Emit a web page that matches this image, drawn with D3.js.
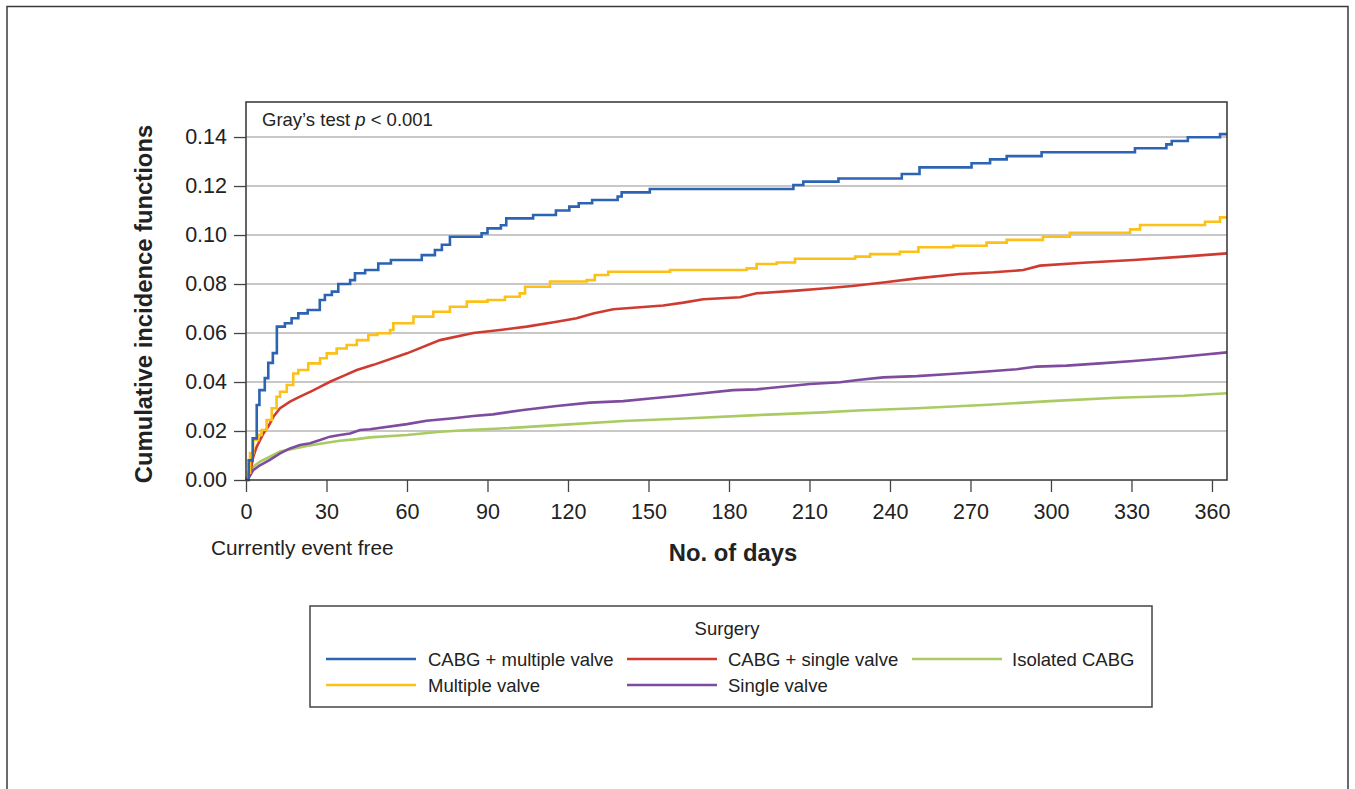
<!DOCTYPE html>
<html>
<head>
<meta charset="utf-8">
<script src="https://cdn.jsdelivr.net/npm/d3@7/dist/d3.min.js"></script>
<style>
  html, body { margin: 0; padding: 0; background: #fff; }
  svg { display: block; font-family: "Liberation Sans", Arial, Helvetica, sans-serif; }
</style>
</head>
<body>
<svg id="chart" width="1355" height="789"></svg>
<script>
// ---------- DATA ----------
const seriesNames = ["CABG + multiple valve", "CABG + single valve", "Isolated CABG", "Multiple valve", "Single valve"];
const seriesColors = ["#2d63b3", "#cf3b31", "#a9cb62", "#fcc016", "#7e4b9f"];
const xTicks = [0, 30, 60, 90, 120, 150, 180, 210, 240, 270, 300, 330, 360];
const yTicks = [0, 0.02, 0.04, 0.06, 0.08, 0.10, 0.12, 0.14];

// [day, cumulative incidence]
const cabgMultipleValve = [[0,0],[1,0.008],[2.5,0.017],[4,0.0306],[5,0.0367],[7,0.0416],[8.3,0.0478],[10,0.0518],[11.5,0.0626],[14.5,0.064],[17,0.066],[19.5,0.068],[23,0.0694],[27.5,0.0735],[29.4,0.0755],[32,0.0769],[34.4,0.080],[38.8,0.0816],[40.6,0.0844],[44.4,0.0857],[49.3,0.0884],[54,0.0898],[65.5,0.0918],[70.4,0.0939],[73,0.096],[76,0.0993],[87.8,0.1007],[90,0.1027],[95,0.104],[97,0.1068],[107,0.1082],[115.5,0.110],[120.5,0.1116],[124,0.113],[129,0.1143],[138.5,0.1157],[140,0.1174],[150.5,0.1188],[204,0.1204],[207.7,0.1218],[220.8,0.1231],[244.4,0.1249],[251,0.1276],[270.4,0.1293],[277.3,0.1309],[283.5,0.1322],[296.5,0.1338],[331.3,0.1354],[343,0.137],[345,0.1384],[351,0.1399],[363,0.1412],[365.6,0.1412]];
const cabgSingleValve = [[0,0],[1.5,0.0027],[2.7,0.0095],[4,0.0136],[6.5,0.019],[8.3,0.0218],[10.2,0.0258],[12.7,0.0293],[16.4,0.032],[20.1,0.034],[23.9,0.036],[27.6,0.038],[31.3,0.0401],[36.3,0.0425],[41.3,0.0449],[47.5,0.047],[60,0.0517],[72.3,0.0571],[84.7,0.0600],[94.7,0.0612],[104.6,0.0626],[115.8,0.0646],[123.2,0.066],[129.4,0.068],[136.9,0.0697],[149.3,0.0707],[155.5,0.0712],[163,0.0724],[170.4,0.0738],[184.1,0.0746],[190.3,0.0762],[205.2,0.0773],[215.1,0.0782],[226,0.0792],[237.5,0.0806],[250,0.0823],[266,0.0841],[278.5,0.0848],[289.7,0.0857],[295.9,0.0875],[312,0.0887],[330.7,0.0898],[349.4,0.0912],[365.6,0.0925]];
const isolatedCabg = [[0,0],[0.9,0.0007],[2.7,0.0054],[5.2,0.0075],[8.9,0.0095],[12.7,0.0116],[16.4,0.0125],[22.6,0.0139],[28.8,0.015],[35,0.016],[41.3,0.0167],[46.2,0.0174],[60,0.0184],[72.3,0.0197],[84.7,0.0205],[94.7,0.021],[115.8,0.0224],[140.6,0.0241],[165.5,0.0252],[190.3,0.0265],[215.1,0.0276],[228,0.0284],[250,0.0293],[274.8,0.0306],[299.6,0.0322],[324.5,0.0336],[349.4,0.0344],[365.6,0.0354]];
const multipleValve = [[0,0],[0.8,0.003],[1.5,0.011],[2.7,0.0163],[4.6,0.0184],[5.8,0.0204],[7.7,0.0245],[9.6,0.0293],[11.4,0.034],[12.7,0.036],[15.2,0.0388],[17.6,0.0435],[19.5,0.0449],[23.2,0.0476],[27.6,0.0497],[30.1,0.0517],[33.8,0.0537],[37.5,0.0551],[41.3,0.0571],[45.6,0.0592],[49,0.0599],[53.7,0.0612],[54.9,0.064],[62.4,0.0667],[69.8,0.0687],[76,0.0707],[82.3,0.0728],[90,0.0735],[96.5,0.0748],[102,0.0762],[104,0.0789],[113.3,0.081],[127,0.0816],[130,0.0837],[135,0.085],[158,0.0857],[186.6,0.0864],[190.3,0.0882],[197.8,0.0888],[204.6,0.0903],[227,0.0912],[232.6,0.0922],[243.7,0.0932],[250.6,0.095],[263.6,0.0956],[276,0.0969],[283.5,0.098],[297,0.0993],[307,0.1009],[329.5,0.1023],[333.2,0.1041],[357.4,0.1054],[363,0.1072],[365.6,0.1072]];
const singleValve = [[0,0],[0.9,0.0007],[2.7,0.004],[5.2,0.006],[8.9,0.0082],[12.7,0.0109],[16.4,0.0129],[20.1,0.0143],[23.9,0.015],[27.6,0.0163],[31.3,0.0177],[35,0.0184],[38.8,0.019],[42.5,0.0204],[46.2,0.0207],[60,0.0228],[67.3,0.0242],[77.3,0.0252],[84.7,0.0261],[92,0.0268],[103.3,0.0286],[115.8,0.0302],[128.2,0.0316],[140.6,0.0322],[150.6,0.0333],[160.5,0.0343],[170.4,0.0354],[181.5,0.0367],[190.3,0.037],[202.7,0.0384],[210.2,0.0392],[221.4,0.0399],[228,0.0408],[237.5,0.0419],[250,0.0424],[262.4,0.0433],[274.8,0.0442],[287.2,0.0452],[294.7,0.0463],[305.8,0.0467],[318.3,0.0476],[330.7,0.0486],[343.1,0.0497],[355.5,0.051],[365.6,0.0521]];

const seriesData = [cabgMultipleValve, cabgSingleValve, isolatedCabg, multipleValve, singleValve];
const stepped = [true, false, false, true, false];
// draw order (back to front)
const drawOrder = [2, 4, 1, 3, 0];

// ---------- LAYOUT ----------
const svg = d3.select("#chart");
const plot = { left: 246, right: 1227, top: 102, bottom: 480 };
const x = d3.scaleLinear().domain([0, 365.6]).range([plot.left, plot.right]);
const y = d3.scaleLinear().domain([0, 0.1543]).range([plot.bottom, plot.top]);

// outer frame
svg.append("path")
  .attr("d", "M7,789 L7,6.5 L1348,6.5 L1348,789")
  .attr("fill", "none").attr("stroke", "#3a3a3a").attr("stroke-width", 1.5);

// grid lines
svg.append("g").selectAll("line")
  .data(yTicks.filter(d => d > 0))
  .join("line")
  .attr("x1", plot.left).attr("x2", plot.right)
  .attr("y1", d => y(d)).attr("y2", d => y(d))
  .attr("stroke", "#c8c8c8").attr("stroke-width", 2);

// curves
const lineStep = d3.line().x(d => x(d[0])).y(d => y(d[1])).curve(d3.curveStepAfter);
const lineLin = d3.line().x(d => x(d[0])).y(d => y(d[1])).curve(d3.curveLinear);
const curves = svg.append("g");
drawOrder.forEach(i => {
  curves.append("path")
    .datum(seriesData[i])
    .attr("d", stepped[i] ? lineStep : lineLin)
    .attr("fill", "none")
    .attr("stroke", seriesColors[i])
    .attr("stroke-width", 2.6)
    .attr("stroke-linejoin", "miter");
});

// plot border
svg.append("rect")
  .attr("x", plot.left).attr("y", plot.top)
  .attr("width", plot.right - plot.left).attr("height", plot.bottom - plot.top)
  .attr("fill", "none").attr("stroke", "#333").attr("stroke-width", 1.5);

// axes
const xAxis = d3.axisBottom(x).tickValues(xTicks).tickSize(12).tickPadding(12).tickSizeOuter(0);
const gx = svg.append("g").attr("transform", `translate(0,${plot.bottom})`).call(xAxis);
gx.select(".domain").remove();
gx.selectAll(".tick line").attr("stroke", "#444").attr("stroke-width", 1.3);
gx.selectAll(".tick text").attr("font-size", 21.5).attr("fill", "#222")
  .attr("font-family", "Liberation Sans, Arial, sans-serif");

const yAxis = d3.axisLeft(y).tickValues(yTicks).tickFormat(d3.format(".2f")).tickSize(12).tickPadding(7).tickSizeOuter(0);
const gy = svg.append("g").attr("transform", `translate(${plot.left},0)`).call(yAxis);
gy.select(".domain").remove();
gy.selectAll(".tick line").attr("stroke", "#444").attr("stroke-width", 1.3);
gy.selectAll(".tick text").attr("font-size", 21.5).attr("fill", "#222")
  .attr("font-family", "Liberation Sans, Arial, sans-serif");

// annotations
const gray = svg.append("text").attr("x", 262).attr("y", 126)
  .attr("font-size", 18.5).attr("fill", "#222");
gray.append("tspan").text("Gray\u2019s test ");
gray.append("tspan").attr("font-style", "italic").text("p");
gray.append("tspan").text(" < 0.001");

svg.append("text")
  .attr("transform", `translate(152,${(125 + 483) / 2}) rotate(-90)`)
  .attr("text-anchor", "middle")
  .attr("font-size", 23.8).attr("font-weight", "bold").attr("fill", "#222")
  .text("Cumulative incidence functions");

svg.append("text").attr("x", 733).attr("y", 561)
  .attr("text-anchor", "middle")
  .attr("font-size", 23.8).attr("font-weight", "bold").attr("fill", "#222")
  .text("No. of days");

svg.append("text").attr("x", 211).attr("y", 555)
  .attr("font-size", 20.8).attr("fill", "#222")
  .text("Currently event free");

// legend
const lg = svg.append("g");
lg.append("rect").attr("x", 310).attr("y", 606).attr("width", 842).attr("height", 101)
  .attr("fill", "#fff").attr("stroke", "#444").attr("stroke-width", 1.5);
lg.append("text").attr("x", 727).attr("y", 635).attr("text-anchor", "middle")
  .attr("font-size", 18.5).attr("fill", "#222").text("Surgery");

const legendPos = [
  { lx: 326, tx: 428, y: 659 },
  { lx: 627, tx: 728, y: 659 },
  { lx: 912, tx: 1012, y: 659 },
  { lx: 326, tx: 428, y: 685 },
  { lx: 627, tx: 728, y: 685 }
];
seriesNames.forEach((name, i) => {
  const p = legendPos[i];
  lg.append("line").attr("x1", p.lx).attr("x2", p.lx + 90)
    .attr("y1", p.y).attr("y2", p.y)
    .attr("stroke", seriesColors[i]).attr("stroke-width", 2.6);
  lg.append("text").attr("x", p.tx).attr("y", p.y + 6.5)
    .attr("font-size", 18.5).attr("fill", "#222").text(name);
});
</script>
</body>
</html>
